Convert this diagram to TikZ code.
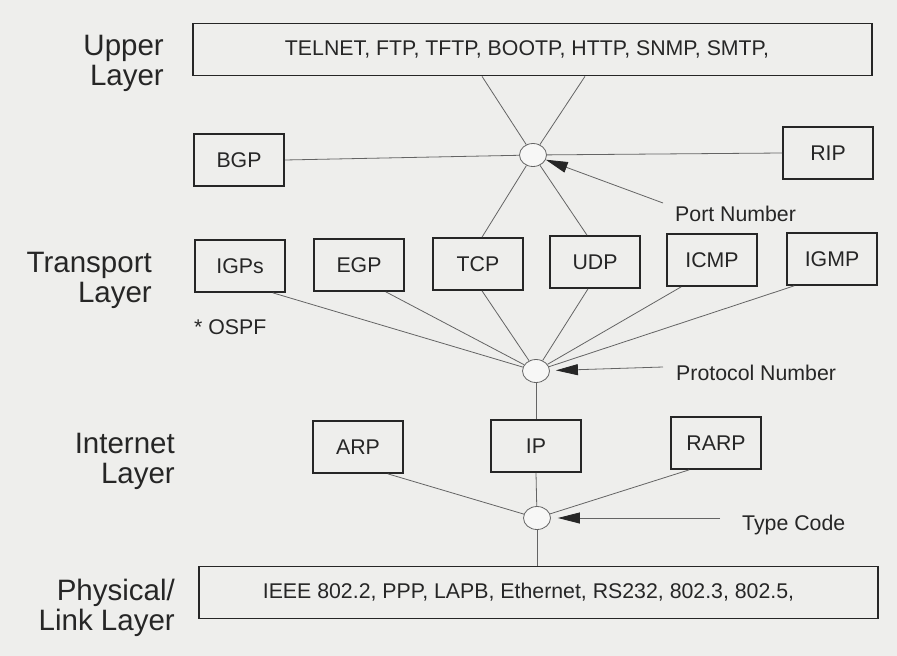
\documentclass[tikz,border=0pt]{standalone}
\usepackage{fontspec}
\setmainfont{Liberation Sans}
\usetikzlibrary{arrows.meta,calc,shapes.geometric}
\definecolor{paper}{RGB}{238,238,236}
\definecolor{ink}{RGB}{38,38,38}
\definecolor{wire}{RGB}{100,100,100}

\begin{document}
\begin{tikzpicture}[x=1pt,y=-1pt,
  every node/.style={text=ink},
  protobox/.style={draw=ink, line width=1.7pt, minimum width=90pt, minimum height=52pt,
    inner sep=0pt, font=\fontsize{21.3}{24}\selectfont},
  widebox/.style={protobox, minimum width=679pt, minimum height=52pt},
  hub/.style={ellipse, draw=wire, line width=0.8pt, fill=white!55!paper,
    minimum width=27pt, minimum height=23pt, inner sep=0pt},
  link/.style={draw=wire, line width=0.8pt},
  pointer/.style={draw=wire, line width=0.8pt,
    -{Triangle[length=22pt,width=11pt,color=ink]}},
  layerlbl/.style={font=\fontsize{29.5}{29.5}\selectfont, align=right, anchor=base east, inner sep=0pt},
  note/.style={font=\fontsize{21.3}{24}\selectfont, anchor=base west, inner sep=0pt}]

% paper
\fill[paper] (0,0) rectangle (897,656);
\useasboundingbox (0,0) rectangle (897,656);

% layer captions (anchored at the baseline of the second line)
\node[layerlbl] (lupper) at (164,85)  {Upper\\Layer};
\node[layerlbl] (ltrans) at (152,302) {Transport\\Layer};
\node[layerlbl] (linet)  at (175,483) {Internet\\Layer};
\node[layerlbl] (lphys)  at (175,630) {Physical/\\Link Layer};

% protocol boxes
\node[widebox] (upper) at (532.5,49.5) {TELNET, FTP, TFTP, BOOTP, HTTP, SNMP, SMTP,\hspace*{11pt}};
\node[protobox] (bgp)  at (239,160) {BGP};
\node[protobox] (rip)  at (828,153) {RIP};

\node[protobox] (igps) at (240,266) {IGPs};
\node[protobox] (egp)  at (359,265) {EGP};
\node[protobox] (tcp)  at (478,264) {TCP};
\node[protobox] (udp)  at (595,262) {UDP};
\node[protobox] (icmp) at (712,260) {ICMP};
\node[protobox] (igmp) at (832,259) {IGMP};

\node[protobox] (arp)  at (358,447) {ARP};
\node[protobox] (ip)   at (536,446) {IP};
\node[protobox] (rarp) at (716,443) {RARP};

\node[widebox] (phys) at (538.5,592.5) {IEEE 802.2, PPP, LAPB, Ethernet, RS232, 802.3, 802.5,\hspace*{20pt}};

\node[note] (ospf) at (194,334) {* OSPF};

% multiplexing points
\node[hub] (port)  at (533,155) {};
\node[hub] (proto) at (536,371) {};
\node[hub] (type)  at (537,518) {};

% upper layer <-> port number
\draw[link] ($(upper.south -| tcp.north)+(4,0)$) -- (port);
\draw[link] ($(upper.south -| udp.north)+(-10,0)$) -- (port);
\draw[link] (port) -- ($(tcp.north)+(4,0)$);
\draw[link] (port) -- ($(udp.north)+(-8,0)$);
\draw[link] (bgp.east) -- (port);
\draw[link] (rip.west) -- (port);

% transport <-> protocol number
\draw[link] ($(igps.south east)+(-13,0)$) -- (proto);
\draw[link] ($(egp.south east)+(-19,0)$) -- (proto);
\draw[link] ($(tcp.south)+(4,0)$) -- (proto);
\draw[link] ($(udp.south)+(-7,0)$) -- (proto);
\draw[link] ($(icmp.south west)+(15,0)$) -- (proto);
\draw[link] ($(igmp.south west)+(8,0)$) -- (proto);
\draw[link] (proto) -- (proto |- ip.north);

% internet <-> type code
\draw[link] ($(arp.south east)+(-16,0)$) -- (type);
\draw[link] (ip.south) -- (type);
\draw[link] ($(rarp.south west)+(19,0)$) -- (type);
\draw[link] (type) -- (type |- phys.north);

% field annotations
\node[note] (portlbl)  at (675,221) {Port Number};
\node[note] (protolbl) at (676,380) {Protocol Number};
\node[note] (typelbl)  at (742,530) {Type Code};
\coordinate (porttail)  at (663,203);
\coordinate (prototail) at (663,367);
\coordinate (typetail)  at (720,518);
\draw[pointer] (porttail) -- (port);
\draw[pointer, shorten >=6pt] (prototail) -- (proto);
\draw[pointer, shorten >=7pt] (typetail) -- (type);
\end{tikzpicture}
\end{document}
